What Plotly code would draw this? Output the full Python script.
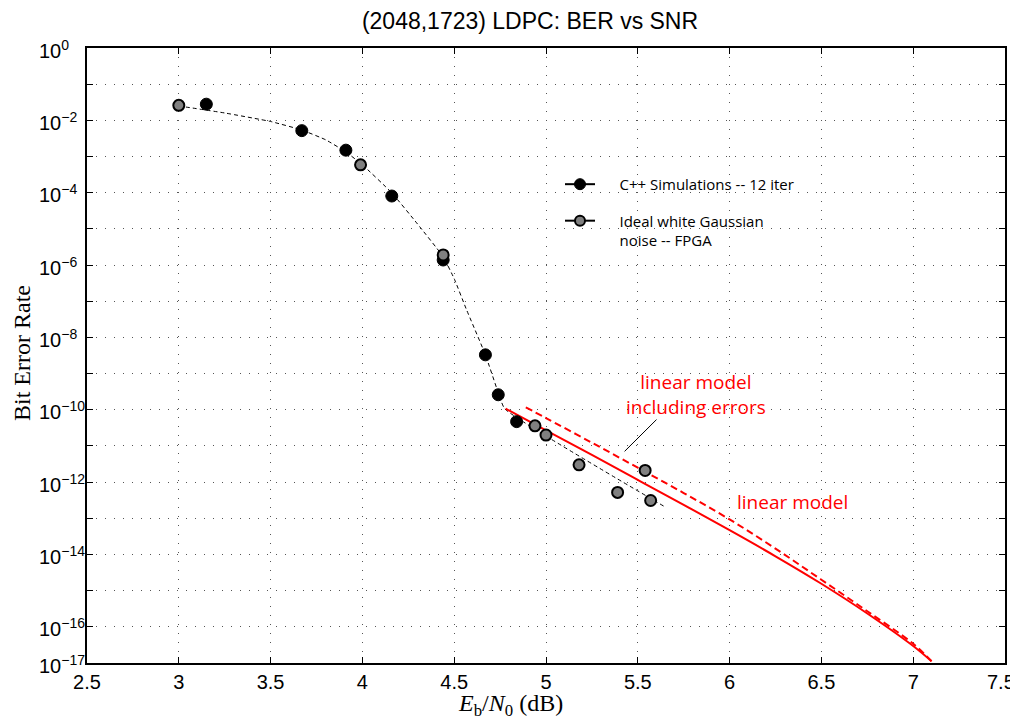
import plotly.graph_objects as go

# ---- data (BER values) ----
cpp_x = [3.15, 3.67, 3.91, 4.16, 4.44, 4.67, 4.74, 4.84]
cpp_y = [2.8e-2, 5.2e-3, 1.5e-3, 8.1e-5, 1.38e-6, 3.3e-9, 2.6e-10, 4.7e-11]

fpga_x = [3.0, 3.99, 4.44, 4.94, 5.00, 5.18, 5.39, 5.54, 5.57]
fpga_y = [2.6e-2, 5.9e-4, 1.9e-6, 3.6e-11, 2.0e-11, 3.0e-12, 5.2e-13, 2.1e-12, 3.1e-13]

fit_x = [3.0, 3.25, 3.5, 3.67, 3.8, 3.91, 4.0, 4.16, 4.3, 4.44, 4.5, 4.565, 4.67, 4.74, 4.775, 5.646]
fit_y = [2.5e-2, 1.6e-2, 9.3e-3, 5.4e-3, 2.9e-3, 1.34e-3, 5.9e-4, 9.9e-5, 1.37e-5, 1.69e-6,
         4.2e-7, 6.2e-8, 3.3e-9, 2.95e-10, 1.07e-10, 2.1e-13]

lin_x = [4.78, 5.0, 5.25, 5.5, 5.75, 6.0, 6.25, 6.5, 6.75, 7.0, 7.1]
lin_y = [1.07e-10, 2.69e-11, 5.62e-12, 1.15e-12, 2.34e-13, 4.68e-14, 8.9e-15, 1.55e-15, 2.34e-16, 2.95e-17, 1.12e-17]

linerr_x = [4.89, 5.0, 5.25, 5.5, 5.75, 6.0, 6.25, 6.5, 6.75, 7.0, 7.1]
linerr_y = [1.17e-10, 5.9e-11, 1.23e-11, 2.5e-12, 5.0e-13, 9.3e-14, 1.45e-14, 2.0e-15, 2.7e-16, 3.4e-17, 1.12e-17]

x_ticks = [2.5, 3, 3.5, 4, 4.5, 5, 5.5, 6, 6.5, 7, 7.5]
y_exps = list(range(0, -18, -1))
y_label_exps = [0, -2, -4, -6, -8, -10, -12, -14, -16, -17]

title = "(2048,1723) LDPC: BER vs SNR"
legend_cpp = "C++ Simulations -- 12 iter"
legend_fpga = "Ideal white Gaussian<br>noise -- FPGA"

# page body has an 8px margin: figure is drawn 8px right/down of the window corner
OFF = 8
W, H = 1018 - OFF, 721 - OFF

fig = go.Figure()

fig.add_trace(go.Scatter(x=fit_x, y=fit_y, mode="lines",
                         line=dict(color="black", width=1, dash="4px,3px", shape="spline", smoothing=0.4),
                         showlegend=False, hoverinfo="skip"))
fig.add_trace(go.Scatter(x=lin_x, y=lin_y, mode="lines",
                         line=dict(color="#ff0000", width=2, shape="spline", smoothing=1.0),
                         showlegend=False))
fig.add_trace(go.Scatter(x=linerr_x, y=linerr_y, mode="lines",
                         line=dict(color="#ff0000", width=2, dash="7px,4px", shape="spline", smoothing=1.0),
                         showlegend=False))

fig.add_trace(go.Scatter(x=cpp_x, y=cpp_y, mode="markers",
                         marker=dict(color="black", size=12, line=dict(color="black", width=1)),
                         showlegend=False))
fig.add_trace(go.Scatter(x=fpga_x, y=fpga_y, mode="markers",
                         marker=dict(color="#808080", size=11, line=dict(color="black", width=2)),
                         showlegend=False))

NB = "\u00a0" * 5
fig.add_trace(go.Scatter(x=[None], y=[None], mode="lines+markers", name=NB + legend_cpp, legendgroup="a",
                         line=dict(color="black", width=2),
                         marker=dict(color="black", size=11, line=dict(color="black", width=1))))
fig.add_trace(go.Scatter(x=[None], y=[None], mode="lines+markers",
                         name=NB + legend_fpga.replace("<br>", "<br>" + NB), legendgroup="b",
                         line=dict(color="black", width=2),
                         marker=dict(color="#808080", size=10, line=dict(color="black", width=2))))

red_font = dict(family="Open Sans, sans-serif", size=19, color="#ff0000")
fig.add_annotation(x=5.815, y=-9.58, xref="x", yref="y", text="linear model<br>including errors",
                   showarrow=False, font=red_font, align="center")
fig.add_annotation(x=6.344, y=-12.54, xref="x", yref="y", text="linear model",
                   showarrow=False, font=red_font)
fig.add_annotation(x=5.428, y=-11.15, xref="x", yref="y", ax=5.61, ay=-10.23, axref="x", ayref="y",
                   text="", showarrow=True, arrowhead=0, arrowwidth=1, arrowcolor="black")

# y tick labels: "10" column left-aligned, exponent to the right
tick_font = dict(family="Liberation Sans, Arial, sans-serif", size=20, color="black")
for e in y_label_exps:
    fig.add_annotation(x=-(87 - 37) / 918, y=e, xref="paper", yref="y",
                       text="10<sup>" + ("−" + str(-e) if e < 0 else "0") + "</sup>",
                       showarrow=False, xanchor="left", yanchor="middle", yshift=-1, font=tick_font)

# last x tick label drawn as an annotation, nudged left so it stays inside the window
x_ticktext = [f"{v:g}" for v in x_ticks]
fig.add_annotation(x=x_ticks[-1], y=-(682 - 663) / 615, xref="x", yref="paper",
                   text=x_ticktext[-1], showarrow=False, xanchor="center", yanchor="middle",
                   xshift=-4, font=tick_font)
x_ticktext[-1] = ""

# axis titles
fig.add_annotation(x=(510 - 87) / 918, y=-(705 - 663) / 615, xref="paper", yref="paper",
                   text="<i>E</i><sub>b</sub>/<i>N</i><sub>0</sub> (dB)", showarrow=False,
                   xanchor="center", yanchor="middle",
                   font=dict(family="Liberation Serif, Times New Roman, serif", size=24, color="black"))
fig.add_annotation(x=-(87 - 22) / 918, y=(663 - 353) / 615, xref="paper", yref="paper",
                   text="Bit Error Rate", showarrow=False, textangle=-90,
                   xanchor="center", yanchor="middle",
                   font=dict(family="Liberation Serif, Times New Roman, serif", size=24, color="black"))

fig.update_layout(
    width=W, height=H,
    margin=dict(l=87 - OFF, r=13, t=48 - OFF, b=58),
    paper_bgcolor="white", plot_bgcolor="white",
    title=dict(text=title, x=(530 - OFF) / W, xanchor="center", xref="container", yref="container",
               y=1 - (21 - OFF) / H, yanchor="middle", automargin=False,
               font=dict(family="Liberation Sans, Arial, sans-serif", size=23, color="black")),
    showlegend=True,
    legend=dict(x=(560 - 87) / 918, y=0.805, xanchor="left", yanchor="top", bgcolor="rgba(255,255,255,0)",
                font=dict(family="Open Sans, sans-serif", size=15, color="black"),
                tracegroupgap=14, itemwidth=30, valign="top"),
    xaxis=dict(
        range=[2.5, 7.5], tickvals=x_ticks, ticktext=x_ticktext,
        showline=True, linecolor="black", linewidth=2, mirror="allticks",
        ticks="inside", ticklen=6, tickcolor="black", tickwidth=1,
        showgrid=True, gridcolor="#555555", gridwidth=1, griddash="1px,8px",
        zeroline=False, automargin=False,
        tickfont=tick_font,
    ),
    yaxis=dict(
        type="log", range=[-17, 0],
        tickvals=[10.0 ** e for e in y_exps], showticklabels=False,
        showline=True, linecolor="black", linewidth=2, mirror="allticks",
        ticks="inside", ticklen=6, tickcolor="black", tickwidth=1,
        showgrid=True, gridcolor="#555555", gridwidth=1, griddash="1px,8px",
        zeroline=False, automargin=False,
    ),
)

fig.write_html("out.html")
